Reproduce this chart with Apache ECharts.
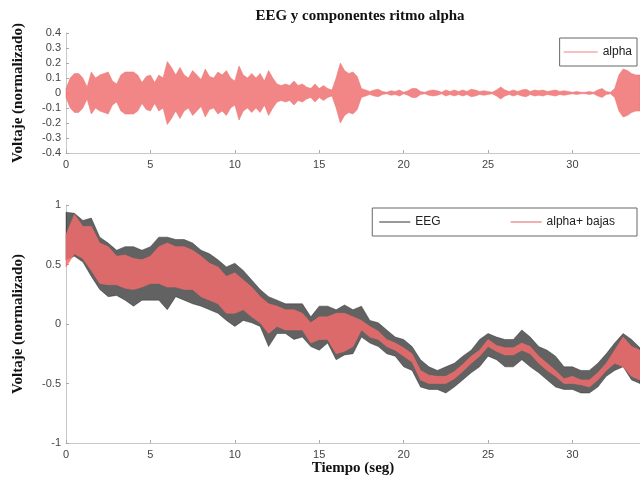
<!DOCTYPE html>
<html lang="es">
<head>
<meta charset="UTF-8">
<title>EEG y componentes ritmo alpha</title>
<script src="https://cdn.jsdelivr.net/npm/echarts@6/dist/echarts.min.js"></script>
<style>
    *{ margin: 0; padding: 0; }
    #chart{ width: 640px; height: 484px; background: #fff; }
</style>
</head>
<body>
<div id="chart"></div>
<script>
    // envolvente de la componente alpha (panel superior), cada 0.25 s
    var alphaStep = 0.25;
    var alphaAmp = [
        0.03, 0.10, 0.13, 0.13, 0.10, 0.04, 0.14, 0.10,
        0.12, 0.13, 0.14, 0.08, 0.06, 0.12, 0.14, 0.14,
        0.14, 0.12, 0.07, 0.11, 0.12, 0.07, 0.12, 0.10,
        0.21, 0.17, 0.12, 0.17, 0.12, 0.10, 0.15, 0.12,
        0.09, 0.16, 0.11, 0.10, 0.14, 0.12, 0.15, 0.10,
        0.08, 0.18, 0.12, 0.10, 0.13, 0.10, 0.13, 0.08,
        0.15, 0.10, 0.06, 0.05, 0.06, 0.05, 0.08, 0.05,
        0.06, 0.04, 0.03, 0.06, 0.03, 0.05, 0.03, 0.02,
        0.10, 0.20, 0.15, 0.13, 0.14, 0.11, 0.03, 0.02,
        0.01, 0.02, 0.025, 0.01, 0.005, 0.015, 0.01, 0.02,
        0.005, 0.015, 0.03, 0.03, 0.01, 0.005, 0.015, 0.02,
        0.015, 0.005, 0.02, 0.01, 0.02, 0.01, 0.02, 0.01,
        0.025, 0.02, 0.01, 0.015, 0.01, 0.005, 0.02, 0.04,
        0.02, 0.01, 0.02, 0.01, 0.02, 0.025, 0.01, 0.02,
        0.015, 0.02, 0.01, 0.015, 0.02, 0.01, 0.015, 0.01,
        0.005, 0.01, 0.005, 0.005, 0.01, 0.005, 0.02, 0.03,
        0.01, 0.005, 0.03, 0.12, 0.16, 0.15, 0.13, 0.12,
        0.12
    ];

    // panel inferior: bandas max/min de EEG y alpha+bajas, cada 0.5 s
    var eegStep = 0.5;
    var eegHi = [0.94, 0.93, 0.87, 0.89, 0.73, 0.68, 0.62, 0.65, 0.65, 0.62, 0.65, 0.73, 0.73, 0.71, 0.71, 0.68,
        0.62, 0.59, 0.54, 0.48, 0.51, 0.45, 0.37, 0.29, 0.23, 0.20, 0.17, 0.17, 0.17, 0.06, 0.15, 0.15,
        0.12, 0.16, 0.12, 0.15, 0.03, 0.01, -0.05, -0.11, -0.13, -0.19, -0.30, -0.36, -0.39, -0.36, -0.33, -0.27,
        -0.22, -0.13, -0.08, -0.11, -0.13, -0.13, -0.05, -0.11, -0.19, -0.22, -0.27, -0.36, -0.36, -0.39, -0.39, -0.33,
        -0.25, -0.16, -0.08, -0.13, -0.20];
    var eegLo = [0.54, 0.57, 0.52, 0.40, 0.29, 0.23, 0.24, 0.20, 0.15, 0.20, 0.20, 0.20, 0.12, 0.23, 0.20, 0.17,
        0.15, 0.12, 0.09, 0.03, -0.02, 0.03, 0.01, -0.02, -0.19, -0.08, -0.08, -0.13, -0.11, -0.19, -0.22, -0.16,
        -0.30, -0.26, -0.25, -0.11, -0.16, -0.19, -0.25, -0.27, -0.36, -0.39, -0.53, -0.55, -0.55, -0.58, -0.53, -0.47,
        -0.41, -0.36, -0.27, -0.30, -0.36, -0.36, -0.30, -0.36, -0.41, -0.47, -0.53, -0.55, -0.55, -0.58, -0.58, -0.53,
        -0.44, -0.39, -0.36, -0.47, -0.50];
    var mixHi = [0.75, 0.92, 0.82, 0.82, 0.68, 0.65, 0.57, 0.58, 0.55, 0.54, 0.57, 0.65, 0.68, 0.65, 0.65, 0.62,
        0.57, 0.51, 0.48, 0.40, 0.43, 0.37, 0.31, 0.23, 0.17, 0.15, 0.12, 0.12, 0.09, 0.01, 0.06, 0.06,
        0.09, 0.09, 0.06, 0.03, -0.02, -0.06, -0.13, -0.16, -0.20, -0.25, -0.39, -0.43, -0.44, -0.44, -0.40, -0.34,
        -0.27, -0.22, -0.13, -0.18, -0.20, -0.20, -0.16, -0.19, -0.27, -0.33, -0.39, -0.46, -0.44, -0.47, -0.47, -0.41,
        -0.33, -0.22, -0.11, -0.19, -0.22];
    var mixLo = [0.48, 0.59, 0.55, 0.45, 0.34, 0.33, 0.33, 0.30, 0.29, 0.31, 0.34, 0.34, 0.31, 0.31, 0.29, 0.29,
        0.23, 0.20, 0.17, 0.09, 0.09, 0.12, 0.06, 0.01, -0.08, -0.02, -0.05, -0.05, -0.05, -0.16, -0.13, -0.13,
        -0.25, -0.23, -0.19, -0.05, -0.11, -0.13, -0.19, -0.22, -0.27, -0.32, -0.47, -0.50, -0.50, -0.50, -0.46, -0.40,
        -0.33, -0.27, -0.19, -0.23, -0.26, -0.26, -0.22, -0.25, -0.33, -0.39, -0.44, -0.50, -0.50, -0.51, -0.53, -0.47,
        -0.39, -0.33, -0.36, -0.44, -0.47];

    var topTicks = [-0.4, -0.3, -0.2, -0.1, 0, 0.1, 0.2, 0.3, 0.4];
    var bottomTicks = [-1, -0.5, 0, 0.5, 1];

    var serif = '"Liberation Serif", "DejaVu Serif", serif';
    var sans = '"Liberation Sans", Arial, sans-serif';

    var alphaHi = alphaAmp.map(function (a) { return a; });
    var alphaLo = alphaAmp.map(function (a) { return -a; });

    // banda rellena entre dos curvas, dibujada con las escalas del eje
    function band(step, hi, lo, fill, opacity, gridIdx) {
        return {
            type: 'custom',
            xAxisIndex: gridIdx,
            yAxisIndex: gridIdx,
            silent: true,
            data: [[0, 0]],
            renderItem: function (params, api) {
                var pts = [];
                for (var i = 0; i < hi.length; i++) pts.push(api.coord([i * step, hi[i]]));
                for (var j = lo.length - 1; j >= 0; j--) pts.push(api.coord([j * step, lo[j]]));
                return {
                    type: 'polygon',
                    shape: { points: pts },
                    style: { fill: fill, opacity: opacity, stroke: fill, lineWidth: 0.6 }
                };
            }
        };
    }

    function legendLine(name, color, gridIdx) {
        return {
            type: 'line', name: name, xAxisIndex: gridIdx, yAxisIndex: gridIdx,
            data: [], symbol: 'none', color: color, lineStyle: { color: color, width: 1 }
        };
    }

    function xAxis(gridIdx, withName) {
        return {
            type: 'value', gridIndex: gridIdx, min: 0, max: 34, interval: 5,
            name: withName ? 'Tiempo (seg)' : '',
            nameLocation: 'middle', nameGap: 18,
            nameTextStyle: { fontFamily: serif, fontWeight: 'bold', fontSize: 15, color: '#111' },
            axisLine: { onZero: false, lineStyle: { color: '#c8c8c8', width: 1 } },
            axisTick: { inside: true, length: 3, lineStyle: { color: '#aaa' } },
            axisLabel: { margin: 6, fontFamily: sans, fontSize: 11, color: '#444', showMaxLabel: false },
            splitLine: { show: false }
        };
    }

    function yAxis(gridIdx, ticks, interval) {
        return {
            type: 'value', gridIndex: gridIdx,
            min: ticks[0], max: ticks[ticks.length - 1], interval: interval,
            name: 'Voltaje (normalizado)', nameLocation: 'middle', nameGap: 40,
            nameTextStyle: { fontFamily: serif, fontWeight: 'bold', fontSize: 15, color: '#111' },
            axisLine: { show: true, onZero: false, lineStyle: { color: '#c8c8c8', width: 1 } },
            axisTick: { show: true, inside: true, length: 3, lineStyle: { color: '#aaa' } },
            axisLabel: { margin: 5, fontFamily: sans, fontSize: 11, color: '#444',
                formatter: function (v) { return String(Math.round(v * 10) / 10); } },
            splitLine: { show: false }
        };
    }

    var chart = echarts.init(document.getElementById('chart'));
    chart.setOption({
        backgroundColor: '#fff',
        animation: false,
        title: {
            text: 'EEG y componentes ritmo alpha', left: 355, top: 4, textAlign: 'center',
            textStyle: { fontFamily: serif, fontWeight: 'bold', fontSize: 15, color: '#111' }
        },
        grid: [
            { left: 66, top: 33, height: 120, right: -3 },
            { left: 66, top: 205, height: 238, right: -3 }
        ],
        xAxis: [xAxis(0, false), xAxis(1, true)],
        yAxis: [yAxis(0, topTicks, 0.1), yAxis(1, bottomTicks, 0.5)],
        legend: [
            {
                data: ['alpha'], right: 3, top: 38, orient: 'horizontal',
                borderColor: '#666', borderWidth: 1, padding: [8, 5, 8, 4],
                icon: 'rect', itemWidth: 34, itemHeight: 1,
                textStyle: { fontFamily: sans, fontSize: 12, color: '#222' }
            },
            {
                data: ['EEG', 'alpha+ bajas'], right: 3, top: 208, orient: 'horizontal',
                borderColor: '#666', borderWidth: 1, padding: [8, 22, 8, 7], itemGap: 70,
                icon: 'rect', itemWidth: 31, itemHeight: 1,
                textStyle: { fontFamily: sans, fontSize: 12, color: '#222' }
            }
        ],
        series: [
            band(alphaStep, alphaHi, alphaLo, '#f07474', 0.88, 0),
            band(eegStep, eegHi, eegLo, '#262626', 0.72, 1),
            band(eegStep, mixHi, mixLo, '#f26c6c', 0.85, 1),
            legendLine('alpha', '#f08080', 0),
            legendLine('EEG', '#333333', 1),
            legendLine('alpha+ bajas', '#e06060', 1)
        ]
    });
</script>
</body>
</html>
